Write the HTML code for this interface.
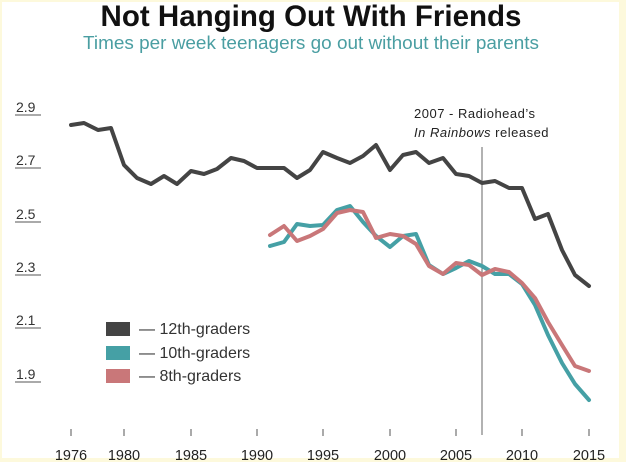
<!DOCTYPE html>
<html><head><meta charset="utf-8"><style>
html,body{margin:0;padding:0;}
body{width:626px;height:462px;overflow:hidden;background:#fdf9dc;}
</style></head><body>
<svg width="626" height="462" xmlns="http://www.w3.org/2000/svg" style="display:block">
<rect x="2" y="2" width="617" height="456" fill="#fff"/>
<text x="311" y="26" text-anchor="middle" font-family="Liberation Sans, sans-serif" font-weight="bold" font-size="29.5" fill="#111">Not Hanging Out With Friends</text>
<text x="311" y="49" text-anchor="middle" font-family="Liberation Sans, sans-serif" font-size="18" fill="#4a9ea2" textLength="456" lengthAdjust="spacingAndGlyphs">Times per week teenagers go out without their parents</text>
<g font-family="Liberation Sans, sans-serif" font-size="14" fill="#333">
<text x="16" y="112">2.9</text><text x="16" y="165">2.7</text><text x="16" y="219">2.5</text>
<text x="16" y="272">2.3</text><text x="16" y="325">2.1</text><text x="16" y="379">1.9</text>
</g>
<g stroke="#555" stroke-width="1">
<line x1="15" y1="115" x2="41" y2="115"/><line x1="15" y1="168" x2="41" y2="168"/><line x1="15" y1="222" x2="41" y2="222"/>
<line x1="15" y1="275" x2="41" y2="275"/><line x1="15" y1="328" x2="41" y2="328"/><line x1="15" y1="382" x2="41" y2="382"/>
</g>
<g stroke="#555" stroke-width="1">
<line x1="71" y1="429" x2="71" y2="436"/><line x1="124" y1="429" x2="124" y2="436"/><line x1="191" y1="429" x2="191" y2="436"/>
<line x1="257" y1="429" x2="257" y2="436"/><line x1="323" y1="429" x2="323" y2="436"/><line x1="390" y1="429" x2="390" y2="436"/>
<line x1="456" y1="429" x2="456" y2="436"/><line x1="522" y1="429" x2="522" y2="436"/><line x1="589" y1="429" x2="589" y2="436"/>
<line x1="482" y1="147" x2="482" y2="435" stroke="#666"/>
</g>
<g font-family="Liberation Sans, sans-serif" font-size="14.5" fill="#222" text-anchor="middle">
<text x="71" y="460">1976</text><text x="124" y="460">1980</text><text x="191" y="460">1985</text><text x="257" y="460">1990</text>
<text x="323" y="460">1995</text><text x="390" y="460">2000</text><text x="456" y="460">2005</text><text x="522" y="460">2010</text><text x="589" y="460">2015</text>
</g>
<g font-family="Liberation Sans, sans-serif" font-size="13" fill="#222">
<text x="414" y="118" letter-spacing="0.5">2007 - Radiohead’s</text>
<text x="414" y="137" letter-spacing="0.5"><tspan font-style="italic">In Rainbows</tspan> released</text>
</g>
<g fill="none" stroke-width="4" stroke-linejoin="round" stroke-linecap="round">
<polyline stroke="#444" points="71,125 84,123 98,130 111,128 124,165 137,178 151,184 164,176 177,184 191,171 204,174 217,169 231,158 244,161 257,168 270,168 284,168 297,178 310,170 323,152 337,158 350,163 363,156 376,145 390,170 403,155 416,152 429,163 443,158 456,174 469,176 482,183 495,181 509,188 522,188 535,219 548,214 562,250 575,275 589,286"/>
<polyline stroke="#45a0a5" points="270,246 284,242 297,224 310,226 323,225 337,210 350,206 363,222 376,236 390,247 403,236 416,234 429,265 443,274 456,268 469,261 482,266 495,274 509,274 522,284 535,305 548,335 562,363 575,384 589,400"/>
<polyline stroke="#c97779" points="270,235 284,226 297,241 310,236 323,229 337,213 350,210 363,212 376,238 390,234 403,236 416,244 429,266 443,274 456,263 469,265 482,275 495,269 509,272 522,283 535,298 548,322 562,345 575,366 589,371"/>
</g>
<rect x="106" y="322" width="24" height="14" fill="#444"/>
<rect x="106" y="346" width="24" height="14" fill="#45a0a5"/>
<rect x="106" y="369" width="24" height="14" fill="#c97779"/>
<g font-family="Liberation Sans, sans-serif" font-size="16" fill="#333">
<text x="139" y="334">— 12th-graders</text>
<text x="139" y="358">— 10th-graders</text>
<text x="139" y="381">— 8th-graders</text>
</g>
</svg>
</body></html>
